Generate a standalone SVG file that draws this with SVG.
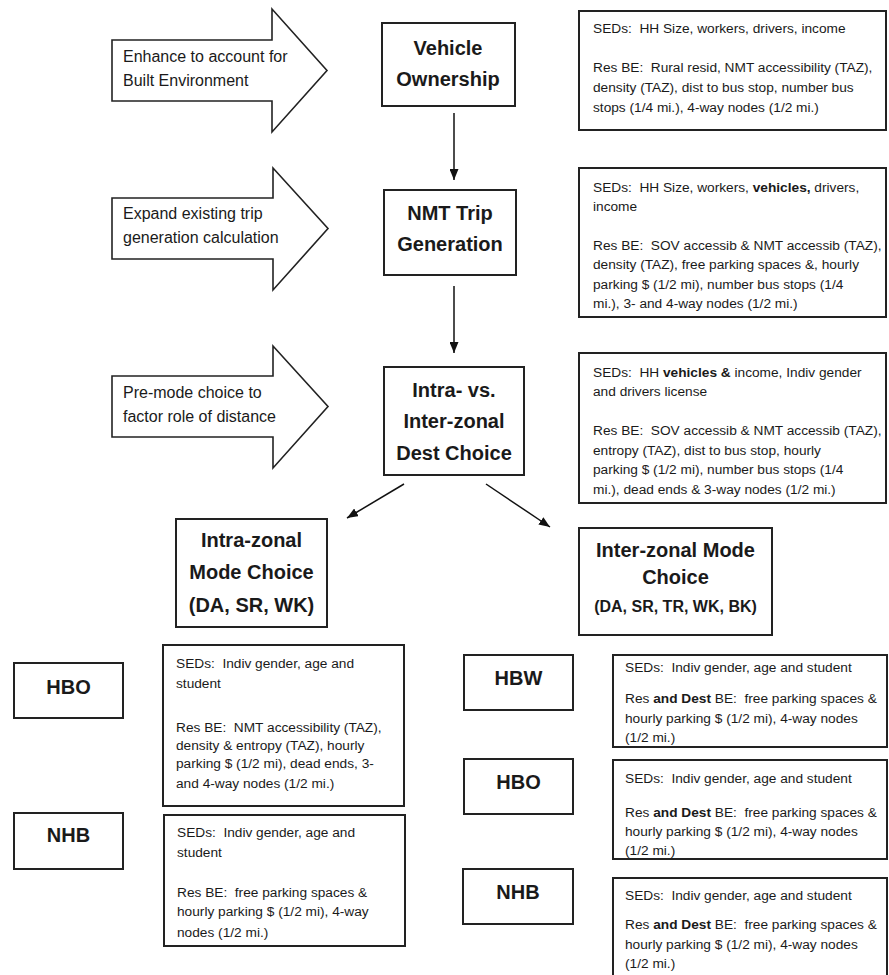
<svg xmlns="http://www.w3.org/2000/svg" width="889" height="975" viewBox="0 0 889 975">
  <style>
    .box { fill: #ffffff; stroke: #222222; stroke-width: 2; }
    .flow { fill: #ffffff; stroke: #222222; stroke-width: 1.6; stroke-linejoin: miter; }
    .title { font-family: "Liberation Sans", Arial, sans-serif; font-weight: bold; font-size: 20px; fill: #1a1a1a; text-anchor: middle; }
    .sub { font-family: "Liberation Sans", Arial, sans-serif; font-weight: bold; font-size: 16px; fill: #1a1a1a; text-anchor: middle; }
    .note { font-family: "Liberation Sans", Arial, sans-serif; font-size: 16px; fill: #1a1a1a; }
    .body { font-family: "Liberation Sans", Arial, sans-serif; font-size: 13.7px; fill: #1a1a1a; white-space: pre; }
    .b { font-weight: bold; }
    .link { stroke: #111111; stroke-width: 1.5; fill: none; marker-end: url(#head); }
  </style>
  <defs>
    <marker id="head" markerUnits="userSpaceOnUse" markerWidth="11" markerHeight="9" refX="11" refY="4.5" orient="auto">
      <path d="M0,0 L11,4.5 L0,9 z" fill="#111111"/>
    </marker>
  </defs>

  <!-- block arrows on the left -->
  <g id="note-enhance">
    <polygon class="flow" points="112,40 272,40 272,9 327,70.5 272,132 272,101 112,101"/>
    <text class="note" x="123" y="62">Enhance to account for</text>
    <text class="note" x="123" y="86">Built Environment</text>
  </g>
  <g id="note-expand">
    <polygon class="flow" points="112,198 273,198 273,168 328,228.5 273,290 273,259 112,259"/>
    <text class="note" x="123" y="219">Expand existing trip</text>
    <text class="note" x="123" y="243">generation calculation</text>
  </g>
  <g id="note-premode">
    <polygon class="flow" points="112,376 273,376 273,346 328,406.5 273,468 273,437 112,437"/>
    <text class="note" x="123" y="398">Pre-mode choice to</text>
    <text class="note" x="123" y="422">factor role of distance</text>
  </g>

  <!-- main model steps -->
  <g id="vehicle-ownership">
    <rect class="box" x="382" y="23" width="133" height="83"/>
    <text class="title" x="448" y="55">Vehicle</text>
    <text class="title" x="448" y="86">Ownership</text>
  </g>
  <g id="nmt-trip-generation">
    <rect class="box" x="384" y="190" width="132" height="85"/>
    <text class="title" x="450" y="220">NMT Trip</text>
    <text class="title" x="450" y="251">Generation</text>
  </g>
  <g id="dest-choice">
    <rect class="box" x="384" y="367" width="140" height="108"/>
    <text class="title" x="454" y="397">Intra- vs.</text>
    <text class="title" x="454" y="428">Inter-zonal</text>
    <text class="title" x="454" y="460">Dest Choice</text>
  </g>
  <g id="intra-mode-choice">
    <rect class="box" x="176" y="519" width="151" height="108"/>
    <text class="title" x="251.5" y="547">Intra-zonal</text>
    <text class="title" x="251.5" y="579">Mode Choice</text>
    <text class="title" x="251.5" y="612">(DA, SR, WK)</text>
  </g>
  <g id="inter-mode-choice">
    <rect class="box" x="579" y="528" width="193" height="107"/>
    <text class="title" x="675.5" y="557">Inter-zonal Mode</text>
    <text class="title" x="675.5" y="584">Choice</text>
    <text class="sub" x="675.5" y="612">(DA, SR, TR, WK, BK)</text>
  </g>

  <!-- variable lists for the main steps -->
  <g id="vars-vehicle-ownership">
    <rect class="box" x="579" y="11" width="307" height="119"/>
    <text class="body" x="593" y="33">SEDs:  HH Size, workers, drivers, income</text>
    <text class="body" x="593" y="72">Res BE:  Rural resid, NMT accessibility (TAZ),</text>
    <text class="body" x="593" y="92">density (TAZ), dist to bus stop, number bus</text>
    <text class="body" x="593" y="112">stops (1/4 mi.), 4-way nodes (1/2 mi.)</text>
  </g>
  <g id="vars-nmt-trip-generation">
    <rect class="box" x="579" y="168" width="307" height="149"/>
    <text class="body" x="593" y="192">SEDs:  HH Size, workers, <tspan class="b">vehicles,</tspan> drivers,</text>
    <text class="body" x="593" y="211">income</text>
    <text class="body" x="593" y="250">Res BE:  SOV accessib &amp; NMT accessib (TAZ),</text>
    <text class="body" x="593" y="269">density (TAZ), free parking spaces &amp;, hourly</text>
    <text class="body" x="593" y="289">parking $ (1/2 mi), number bus stops (1/4</text>
    <text class="body" x="593" y="308">mi.), 3- and 4-way nodes (1/2 mi.)</text>
  </g>
  <g id="vars-dest-choice">
    <rect class="box" x="579" y="353" width="307" height="150"/>
    <text class="body" x="593" y="377">SEDs:  HH <tspan class="b">vehicles &amp;</tspan> income, Indiv gender</text>
    <text class="body" x="593" y="396">and drivers license</text>
    <text class="body" x="593" y="435">Res BE:  SOV accessib &amp; NMT accessib (TAZ),</text>
    <text class="body" x="593" y="455">entropy (TAZ), dist to bus stop, hourly</text>
    <text class="body" x="593" y="474">parking $ (1/2 mi), number bus stops (1/4</text>
    <text class="body" x="593" y="494">mi.), dead ends &amp; 3-way nodes (1/2 mi.)</text>
  </g>

  <!-- intra-zonal trip purposes -->
  <g id="intra-hbo">
    <rect class="box" x="14" y="663" width="109" height="55"/>
    <text class="title" x="68.5" y="694">HBO</text>
  </g>
  <g id="vars-intra-hbo">
    <rect class="box" x="163" y="645" width="241" height="161"/>
    <text class="body" x="176" y="668">SEDs:  Indiv gender, age and</text>
    <text class="body" x="176" y="688">student</text>
    <text class="body" x="176" y="732">Res BE:  NMT accessibility (TAZ),</text>
    <text class="body" x="176" y="750">density &amp; entropy (TAZ), hourly</text>
    <text class="body" x="176" y="768">parking $ (1/2 mi), dead ends, 3-</text>
    <text class="body" x="176" y="788">and 4-way nodes (1/2 mi.)</text>
  </g>
  <g id="intra-nhb">
    <rect class="box" x="14" y="813" width="109" height="56"/>
    <text class="title" x="68.5" y="842">NHB</text>
  </g>
  <g id="vars-intra-nhb">
    <rect class="box" x="164" y="815" width="241" height="131"/>
    <text class="body" x="177" y="837">SEDs:  Indiv gender, age and</text>
    <text class="body" x="177" y="857">student</text>
    <text class="body" x="177" y="897">Res BE:  free parking spaces &amp;</text>
    <text class="body" x="177" y="916">hourly parking $ (1/2 mi), 4-way</text>
    <text class="body" x="177" y="937">nodes (1/2 mi.)</text>
  </g>

  <!-- inter-zonal trip purposes -->
  <g id="inter-hbw">
    <rect class="box" x="464" y="655" width="109" height="55"/>
    <text class="title" x="518.5" y="685">HBW</text>
  </g>
  <g id="vars-inter-hbw">
    <rect class="box" x="613" y="655" width="274" height="92"/>
    <text class="body" x="625" y="672">SEDs:  Indiv gender, age and student</text>
    <text class="body" x="625" y="703">Res <tspan class="b">and Dest</tspan> BE:  free parking spaces &amp;</text>
    <text class="body" x="625" y="723">hourly parking $ (1/2 mi), 4-way nodes</text>
    <text class="body" x="625" y="742">(1/2 mi.)</text>
  </g>
  <g id="inter-hbo">
    <rect class="box" x="464" y="759" width="109" height="55"/>
    <text class="title" x="518.5" y="789">HBO</text>
  </g>
  <g id="vars-inter-hbo">
    <rect class="box" x="613" y="760" width="274" height="99"/>
    <text class="body" x="625" y="783">SEDs:  Indiv gender, age and student</text>
    <text class="body" x="625" y="817">Res <tspan class="b">and Dest</tspan> BE:  free parking spaces &amp;</text>
    <text class="body" x="625" y="836">hourly parking $ (1/2 mi), 4-way nodes</text>
    <text class="body" x="625" y="855">(1/2 mi.)</text>
  </g>
  <g id="inter-nhb">
    <rect class="box" x="463" y="869" width="110" height="55"/>
    <text class="title" x="518" y="899">NHB</text>
  </g>
  <g id="vars-inter-nhb">
    <rect class="box" x="613" y="878" width="274" height="110"/>
    <text class="body" x="625" y="900">SEDs:  Indiv gender, age and student</text>
    <text class="body" x="625" y="929">Res <tspan class="b">and Dest</tspan> BE:  free parking spaces &amp;</text>
    <text class="body" x="625" y="949">hourly parking $ (1/2 mi), 4-way nodes</text>
    <text class="body" x="625" y="968">(1/2 mi.)</text>
  </g>

  <!-- connectors between steps -->
  <g id="connectors">
    <line class="link" x1="454" y1="113" x2="454" y2="180"/>
    <line class="link" x1="454" y1="286" x2="454" y2="353"/>
    <line class="link" x1="404" y1="484" x2="347" y2="518"/>
    <line class="link" x1="486" y1="484" x2="550" y2="527"/>
  </g>
</svg>
